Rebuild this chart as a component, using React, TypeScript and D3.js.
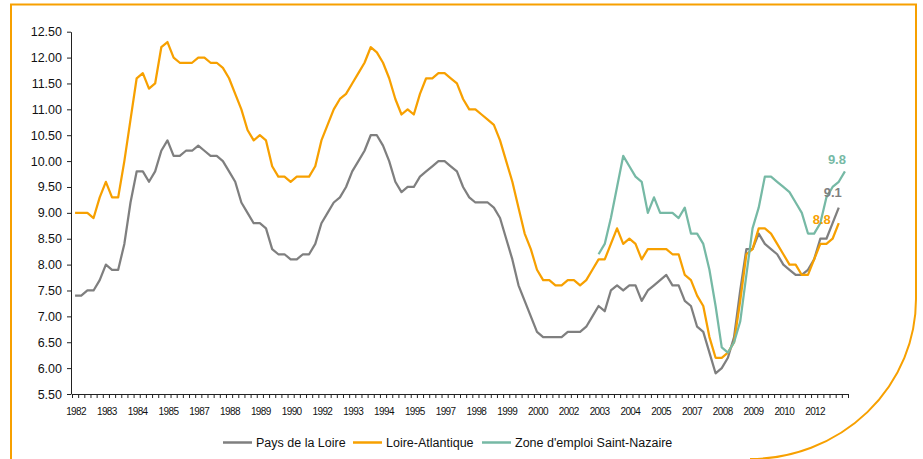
import * as d3 from 'd3';
import { useRef, useEffect } from 'react';

// quarterly series, 1982 T1 -> 2013 T2 (126 slots)
const firstYear = 1982;
const nQuarters = 126;
const categories = d3.range(nQuarters).map((i) => `${firstYear + Math.floor(i / 4)} T${(i % 4) + 1}`);

const tickLabels = [
    '1982', '1983', '1984', '1985', '1987', '1988', '1989', '1990', '1992', '1993',
    '1994', '1995', '1997', '1998', '1999', '2000', '2002', '2003', '2004', '2005',
    '2007', '2008', '2009', '2010', '2012',
];

const paysDeLaLoire = [
    7.4, 7.4, 7.5, 7.5, 7.7, 8.0, 7.9, 7.9, 8.4, 9.2,
    9.8, 9.8, 9.6, 9.8, 10.2, 10.4, 10.1, 10.1, 10.2, 10.2,
    10.3, 10.2, 10.1, 10.1, 10.0, 9.8, 9.6, 9.2, 9.0, 8.8,
    8.8, 8.7, 8.3, 8.2, 8.2, 8.1, 8.1, 8.2, 8.2, 8.4,
    8.8, 9.0, 9.2, 9.3, 9.5, 9.8, 10.0, 10.2, 10.5, 10.5,
    10.3, 10.0, 9.6, 9.4, 9.5, 9.5, 9.7, 9.8, 9.9, 10.0,
    10.0, 9.9, 9.8, 9.5, 9.3, 9.2, 9.2, 9.2, 9.1, 8.9,
    8.5, 8.1, 7.6, 7.3, 7.0, 6.7, 6.6, 6.6, 6.6, 6.6,
    6.7, 6.7, 6.7, 6.8, 7.0, 7.2, 7.1, 7.5, 7.6, 7.5,
    7.6, 7.6, 7.3, 7.5, 7.6, 7.7, 7.8, 7.6, 7.6, 7.3,
    7.2, 6.8, 6.7, 6.3, 5.9, 6.0, 6.2, 6.6, 7.5, 8.3,
    8.3, 8.6, 8.4, 8.3, 8.2, 8.0, 7.9, 7.8, 7.8, 7.9,
    8.1, 8.5, 8.5, 8.8, 9.1, null,
];

const loireAtlantique = [
    9.0, 9.0, 9.0, 8.9, 9.3, 9.6, 9.3, 9.3, 10.0, 10.8,
    11.6, 11.7, 11.4, 11.5, 12.2, 12.3, 12.0, 11.9, 11.9, 11.9,
    12.0, 12.0, 11.9, 11.9, 11.8, 11.6, 11.3, 11.0, 10.6, 10.4,
    10.5, 10.4, 9.9, 9.7, 9.7, 9.6, 9.7, 9.7, 9.7, 9.9,
    10.4, 10.7, 11.0, 11.2, 11.3, 11.5, 11.7, 11.9, 12.2, 12.1,
    11.9, 11.6, 11.2, 10.9, 11.0, 10.9, 11.3, 11.6, 11.6, 11.7,
    11.7, 11.6, 11.5, 11.2, 11.0, 11.0, 10.9, 10.8, 10.7, 10.4,
    10.0, 9.6, 9.1, 8.6, 8.3, 7.9, 7.7, 7.7, 7.6, 7.6,
    7.7, 7.7, 7.6, 7.7, 7.9, 8.1, 8.1, 8.4, 8.7, 8.4,
    8.5, 8.4, 8.1, 8.3, 8.3, 8.3, 8.3, 8.2, 8.2, 7.8,
    7.7, 7.4, 7.2, 6.6, 6.2, 6.2, 6.3, 6.5, 7.3, 8.2,
    8.3, 8.7, 8.7, 8.6, 8.4, 8.2, 8.0, 8.0, 7.8, 7.8,
    8.1, 8.4, 8.4, 8.5, 8.8, null,
];

// Saint-Nazaire starts in 2003 T2 (slot 85)
const saintNazaireStart = 85;
const saintNazaireValues = [
    8.2, 8.4, 8.9, 9.5, 10.1, 9.9, 9.7, 9.6, 9.0, 9.3,
    9.0, 9.0, 9.0, 8.9, 9.1, 8.6, 8.6, 8.4, 7.9, 7.2,
    6.4, 6.3, 6.5, 6.9, 7.8, 8.7, 9.1, 9.7, 9.7, 9.6,
    9.5, 9.4, 9.2, 9.0, 8.6, 8.6, 8.8, 9.3, 9.5, 9.6,
    9.8,
];
const saintNazaire = categories.map((_, i) =>
    i < saintNazaireStart ? null : saintNazaireValues[i - saintNazaireStart] ?? null
);

const yTicks = [5.5, 6, 6.5, 7, 7.5, 8, 8.5, 9, 9.5, 10, 10.5, 11, 11.5, 12, 12.5];

const ORANGE = '#f7a000';
const GRAY = '#7f7f7f';
const TEAL = '#76b9a5';
const FONT = '"Liberation Sans", Arial, sans-serif';

const series = [
    { name: 'Pays de la Loire', values: paysDeLaLoire, color: GRAY, label: '9.1', dx: -6, dy: -11 },
    { name: 'Loire-Atlantique', values: loireAtlantique, color: ORANGE, label: '8.8', dx: -17, dy: 1 },
    { name: "Zone d'emploi Saint-Nazaire", values: saintNazaire, color: TEAL, label: '9.8', dx: -8, dy: -7 },
];

function LineChart({
    width = 923,
    height = 459,
    marginTop = 31.7,
    marginBottom = 65,
    marginLeft = 72,
    marginRight = 75,
}) {
    const gx = useRef<SVGGElement>(null);
    const gy = useRef<SVGGElement>(null);

    const x = d3.scaleBand<number>(d3.range(nQuarters), [marginLeft, width - marginRight]);
    const xEdge = d3.scaleLinear([0, nQuarters], [marginLeft, width - marginRight]);
    const y = d3.scaleLinear([5.5, 12.5], [height - marginBottom, marginTop]);
    const cx = (i: number) => (x(i) ?? 0) + x.bandwidth() / 2;

    const line = d3.line<number | null>()
        .defined((d) => d != null)
        .x((_, i) => cx(i))
        .y((d) => y(d as number));

    useEffect(() => {
        const g = d3.select(gx.current!);
        g.call(d3.axisBottom(xEdge).tickValues(d3.range(nQuarters + 1)).tickFormat(() => '').tickSize(4).tickSizeOuter(0));
        g.select('.domain').attr('stroke', '#222');
        g.selectAll('.tick line').attr('stroke', '#222');
    }, [xEdge]);

    useEffect(() => {
        const g = d3.select(gy.current!);
        g.call(d3.axisLeft(y).tickValues(yTicks).tickFormat(d3.format('.2f')).tickSize(4).tickSizeOuter(0).tickPadding(5));
        g.select('.domain').attr('stroke', '#222');
        g.selectAll('.tick line').attr('stroke', '#222');
        g.selectAll('.tick text').attr('font-size', 12.5).attr('font-family', FONT).attr('fill', '#111');
    }, [y]);

    const lastIndex = (vals: (number | null)[]) => {
        let k = vals.length - 1;
        while (k >= 0 && vals[k] == null) k--;
        return k;
    };

    // legend layout: [line start, text start]
    const legendPos = [[223, 256], [353, 386], [482, 515]];
    const legendY = 442.5;

    return (
        <svg width={width} height={height} style={{ position: 'absolute', left: 0, top: 0, background: '#fff' }}>
            <path
                d={`M11,${height} L11,4.5 L916,4.5 L916,299 A166,160 0 0 1 750,${height}`}
                fill="none"
                stroke={ORANGE}
                strokeWidth={2}
            />
            <g ref={gy} transform={`translate(${marginLeft - 1},0)`} />
            <g ref={gx} transform={`translate(0,${height - marginBottom})`} />
            <g fontFamily={FONT} fontSize={10} fill="#111" letterSpacing={-0.6} textAnchor="middle">
                {tickLabels.map((t, k) => (
                    <text key={t} x={cx(k * 5) + 1} y={height - marginBottom + 20.5}>{t}</text>
                ))}
            </g>
            <g fill="none" strokeWidth={2.25} strokeLinejoin="round">
                {series.map((s) => (
                    <path key={s.name} d={line(s.values) ?? ''} stroke={s.color} />
                ))}
            </g>
            <g fontFamily={FONT} fontSize={13} fontWeight="bold" textAnchor="middle">
                {series.map((s) => {
                    const k = lastIndex(s.values);
                    return (
                        <text key={s.name} x={cx(k) + s.dx} y={y(s.values[k] as number) + s.dy} fill={s.color}>
                            {s.label}
                        </text>
                    );
                })}
            </g>
            <g fontFamily={FONT} fontSize={12.5} fill="#111">
                {series.map((s, k) => (
                    <g key={s.name}>
                        <line x1={legendPos[k][0]} x2={legendPos[k][0] + 29} y1={legendY} y2={legendY} stroke={s.color} strokeWidth={2.5} />
                        <text x={legendPos[k][1]} y={legendY + 4.5}>{s.name}</text>
                    </g>
                ))}
            </g>
        </svg>
    );
}

export default function App() {
    return <LineChart />;
}
